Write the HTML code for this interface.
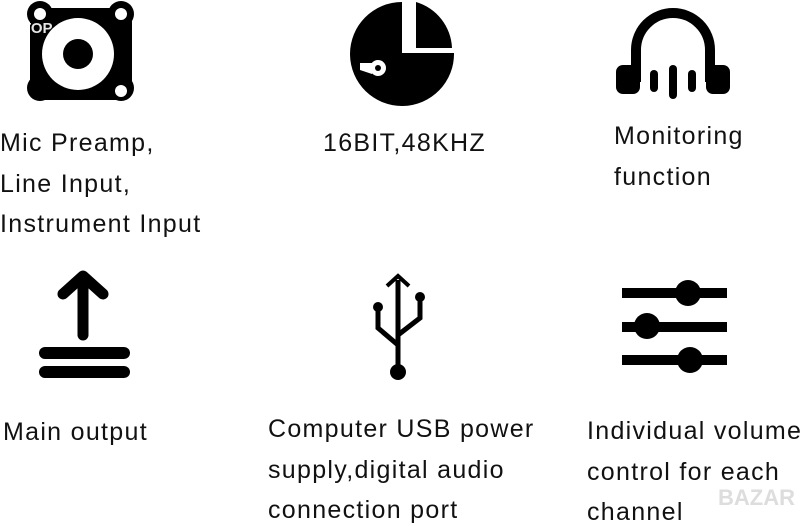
<!DOCTYPE html>
<html><head><meta charset="utf-8"><style>
html,body{margin:0;padding:0;background:#fff;width:800px;height:526px;overflow:hidden;position:relative}
.t{position:absolute;font-family:"Liberation Sans",sans-serif;font-size:25px;letter-spacing:1.3px;color:#111;line-height:40.5px;white-space:nowrap}
svg{position:absolute;left:0;top:0}
</style></head><body>
<svg width="800" height="526" viewBox="0 0 800 526">
<!-- speaker -->
<rect x="30" y="8" width="102" height="92" rx="14" fill="#000"/>
<circle cx="40" cy="14" r="13" fill="#000"/><circle cx="121" cy="14" r="13" fill="#000"/>
<circle cx="40" cy="88" r="13" fill="#000"/><circle cx="121" cy="88" r="13" fill="#000"/>
<circle cx="40" cy="14" r="6" fill="#fff"/><circle cx="121" cy="14" r="6" fill="#fff"/>
<circle cx="121" cy="91" r="6" fill="#fff"/>
<circle cx="78" cy="54" r="36" fill="#fff"/>
<circle cx="78" cy="54" r="15" fill="#000"/>
<text x="22" y="33" font-family="Liberation Sans,sans-serif" font-size="15" font-weight="bold" fill="#fff" opacity="0.9">TOP SHOP</text>
<!-- pie -->
<path d="M402,53 L402,2 A52,52 0 1 0 454,53 Z" fill="#000"/>
<path d="M416,2 A50,50 0 0 1 452,48 L416,48 Z" fill="#000"/>
<circle cx="378" cy="68" r="8" fill="#fff"/>
<path d="M360,63 L372,63 L372,74 L360,70 Z" fill="#fff"/>
<circle cx="378" cy="68" r="3" fill="#000"/>
<!-- headphones -->
<path d="M636,82 L636,50 A37,37 0 0 1 710,50 L710,82" fill="none" stroke="#000" stroke-width="10"/>
<rect x="616" y="65" width="24" height="29" rx="7" fill="#000"/>
<rect x="706" y="65" width="24" height="29" rx="7" fill="#000"/>
<line x1="654" y1="74" x2="654" y2="88" stroke="#000" stroke-width="8" stroke-linecap="round"/>
<line x1="673" y1="69" x2="673" y2="95" stroke="#000" stroke-width="8" stroke-linecap="round"/>
<line x1="692" y1="74" x2="692" y2="88" stroke="#000" stroke-width="8" stroke-linecap="round"/>
<!-- arrow -->
<g stroke="#000" stroke-linecap="round" fill="none">
<line x1="83" y1="278" x2="83" y2="335" stroke-width="11"/>
<polyline points="63,294 83,276 103,294" stroke-width="11" stroke-linejoin="round"/>
<line x1="45" y1="353" x2="124" y2="353" stroke-width="12"/>
<line x1="45" y1="372" x2="124" y2="372" stroke-width="12"/>
</g>
<!-- usb -->
<g stroke="#000" fill="none" stroke-width="5">
<line x1="398" y1="280" x2="398" y2="370"/>
<polyline points="387,286 398,276 409,286" stroke-width="4"/>
<polyline points="378,307 378,328 398,345"/>
<polyline points="420,297 420,318 398,335"/>
</g>
<circle cx="378" cy="307" r="5" fill="#000"/><circle cx="420" cy="297" r="5" fill="#000"/>
<circle cx="398" cy="372" r="8" fill="#000"/>
<!-- sliders -->
<g stroke="#000" stroke-width="10"><line x1="622" y1="293" x2="727" y2="293"/><line x1="622" y1="327" x2="727" y2="327"/><line x1="622" y1="360" x2="727" y2="360"/></g>
<circle cx="688" cy="293" r="13" fill="#000"/><circle cx="647" cy="326" r="13" fill="#000"/><circle cx="690" cy="360" r="13" fill="#000"/>
<text x="718" y="505" font-family="Liberation Sans,sans-serif" font-size="22" font-weight="bold" fill="#ddd">BAZAR</text>
</svg>
<div class="t" style="left:0;top:123px">Mic Preamp,<br>Line Input,<br>Instrument Input</div>
<div class="t" style="left:323px;top:123px">16BIT,48KHZ</div>
<div class="t" style="left:614px;top:116px">Monitoring<br>function</div>
<div class="t" style="left:3px;top:412px">Main output</div>
<div class="t" style="left:268px;top:409px">Computer USB power<br>supply,digital audio<br>connection port</div>
<div class="t" style="left:587px;top:411px">Individual volume<br>control for each<br>channel</div>
</body></html>
